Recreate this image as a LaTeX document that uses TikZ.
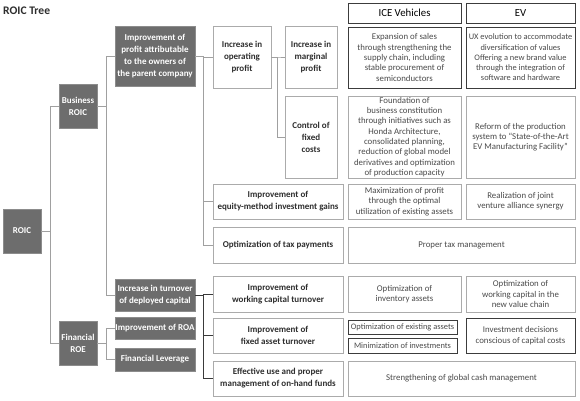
\documentclass[tikz,border=0pt]{standalone}
\usepackage{fontspec}
\setmainfont{Carlito}
\definecolor{darkfill}{HTML}{6D6D6D}
\definecolor{darkedge}{HTML}{8C8C8C}
\definecolor{lightedge}{HTML}{ABABAB}
\definecolor{strongedge}{HTML}{3C3C3C}
\definecolor{linegray}{HTML}{A0A0A0}
\definecolor{linedark}{HTML}{3A3A3A}
\definecolor{txtgray}{HTML}{4A4A4A}
\definecolor{txtdark}{HTML}{2E2E2E}
\newcommand{\mybox}[7]{%
  \node[#1, minimum width={(#5-#3)*1pt}, minimum height={(#6-#4)*1pt}] (#2) at ({(#3+#5)/2},{(#4+#6)/2}) {#7};}
\begin{document}
\begin{tikzpicture}[x=1pt,y=-1pt,
  base/.style={rectangle, inner sep=0pt, align=center, line width=0.9pt},
  darkbox/.style={base, fill=darkfill, draw=darkedge, text=white, font=\fontsize{9}{12.2}\selectfont\bfseries},
  leftbox/.style={base, fill=white, draw=lightedge, text=txtdark, font=\fontsize{9}{12}\selectfont\bfseries},
  rightbox/.style={base, fill=white, draw=lightedge, text=txtgray, font=\fontsize{8.8}{10.3}\selectfont},
  strongbox/.style={rightbox, draw=strongedge},
  narrowbox/.style={strongbox, font=\fontsize{8.4}{10.3}\selectfont},
  smallbox/.style={strongbox, font=\fontsize{8.4}{10}\selectfont},
  headbox/.style={base, fill=white, draw=strongedge, text=black, font=\fontsize{10.8}{13}\selectfont},
  conn/.style={draw=linegray, line width=0.9pt},
  conndark/.style={draw=linedark, line width=0.9pt}
]
\useasboundingbox (0,0) rectangle (580,400);
\node[anchor=west, font=\fontsize{11.6}{14}\selectfont\bfseries, text=txtdark, inner sep=0pt] (title) at (3,11) {ROIC Tree};

% dark boxes
\mybox{darkbox}{roic}{3}{209}{41}{253}{ROIC}
\mybox{darkbox}{bus}{59}{84}{97}{128}{Business\\ROIC}
\mybox{darkbox}{fin}{59}{321}{97}{365}{Financial\\ROE}
\mybox{darkbox}{prof}{115}{26}{195}{86}{Improvement of\\profit attributable\\to the owners of\\the parent company}
\mybox{darkbox}{turn}{115}{279}{195}{311}{Increase in turnover\\of deployed capital}
\mybox{darkbox}{roa}{115}{317}{195}{339}{Improvement of ROA}
\mybox{darkbox}{lev}{115}{348}{195}{371}{Financial Leverage}

% left white boxes
\mybox{leftbox}{op}{213}{26}{271}{88}{Increase in\\operating\\profit}
\mybox{leftbox}{marg}{285}{26}{337}{88}{Increase in\\marginal\\profit}
\mybox{leftbox}{ctrl}{285}{96}{337}{178}{Control of\\fixed\\costs}
\mybox{leftbox}{eq}{213}{184}{343}{219}{Improvement of\\equity-method investment gains}
\mybox{leftbox}{tax}{213}{227}{343}{263}{Optimization of tax payments}
\mybox{leftbox}{wc}{213}{276}{343}{312}{Improvement of\\working capital turnover}
\mybox{leftbox}{fa}{213}{318}{343}{353}{Improvement of\\fixed asset turnover}
\mybox{leftbox}{eff}{213}{361}{343}{396}{Effective use and proper\\management of on-hand funds}

% right column
\mybox{headbox}{iceh}{348}{3}{461}{23}{ICE Vehicles}
\mybox{headbox}{evh}{466}{3}{575}{23}{EV}
\mybox{strongbox}{ice1}{348}{27}{461}{88}{Expansion of sales\\through strengthening the\\supply chain, including\\stable procurement of\\semiconductors}
\mybox{narrowbox}{ev1}{466}{27}{575}{88}{UX evolution to accommodate\\diversification of values\\Offering a new brand value\\through the integration of\\software and hardware}
\mybox{rightbox}{ice2}{348}{96}{461}{178}{Foundation of\\business constitution\\through initiatives such as\\Honda Architecture,\\consolidated planning,\\reduction of global model\\derivatives and optimization\\of production capacity}
\mybox{rightbox}{ev2}{466}{96}{575}{178}{Reform of the production\\system to ``State-of-the-Art\\EV Manufacturing Facility''}
\mybox{rightbox}{ice3}{348}{184}{461}{219}{Maximization of profit\\through the optimal\\utilization of existing assets}
\mybox{rightbox}{ev3}{466}{184}{575}{219}{Realization of joint\\venture alliance synergy}
\mybox{rightbox}{taxr}{348}{227}{575}{263}{Proper tax management}
\mybox{rightbox}{ice5}{348}{276}{461}{312}{Optimization of\\inventory assets}
\mybox{rightbox}{ev5}{466}{276}{575}{312}{Optimization of\\working capital in the\\new value chain}
\mybox{smallbox}{ice6a}{348}{320}{457}{334}{Optimization of existing assets}
\mybox{smallbox}{ice6b}{348}{338}{457}{353}{Minimization of investments}
\mybox{strongbox}{ev6}{466}{318}{575}{353}{Investment decisions\\conscious of capital costs}
\mybox{rightbox}{effr}{348}{361}{575}{396}{Strengthening of global cash management}

% connectors
\draw[conn] (roic.east) -- ++(9,0) |- (bus.west);
\draw[conn] (roic.east) -- ++(9,0) |- (fin.west);
\draw[conn] (bus.east) -- ++(9,0) |- (prof.west);
\draw[conn] (bus.east) -- ++(9,0) |- (turn.west);
\draw[conn] (fin.east) -- ++(9,0) |- (roa.west);
\draw[conn] (fin.east) -- ++(9,0) |- (lev.west);
\draw[conn] (prof.east) -- ++(8,0) |- (op.west);
\draw[conn] (prof.east) -- ++(8,0) |- (eq.west);
\draw[conn] (prof.east) -- ++(8,0) |- (tax.west);
\draw[conn] (op.east) -- ++(6,0) |- (marg.west);
\draw[conn] (op.east) -- ++(6,0) |- (ctrl.west);
\draw[conndark] (turn.east) -- ++(8,0) |- (wc.west);
\draw[conndark] (turn.east) -- ++(8,0) |- (fa.west);
\draw[conndark] (turn.east) -- ++(8,0) |- (eff.west);
\end{tikzpicture}
\end{document}
